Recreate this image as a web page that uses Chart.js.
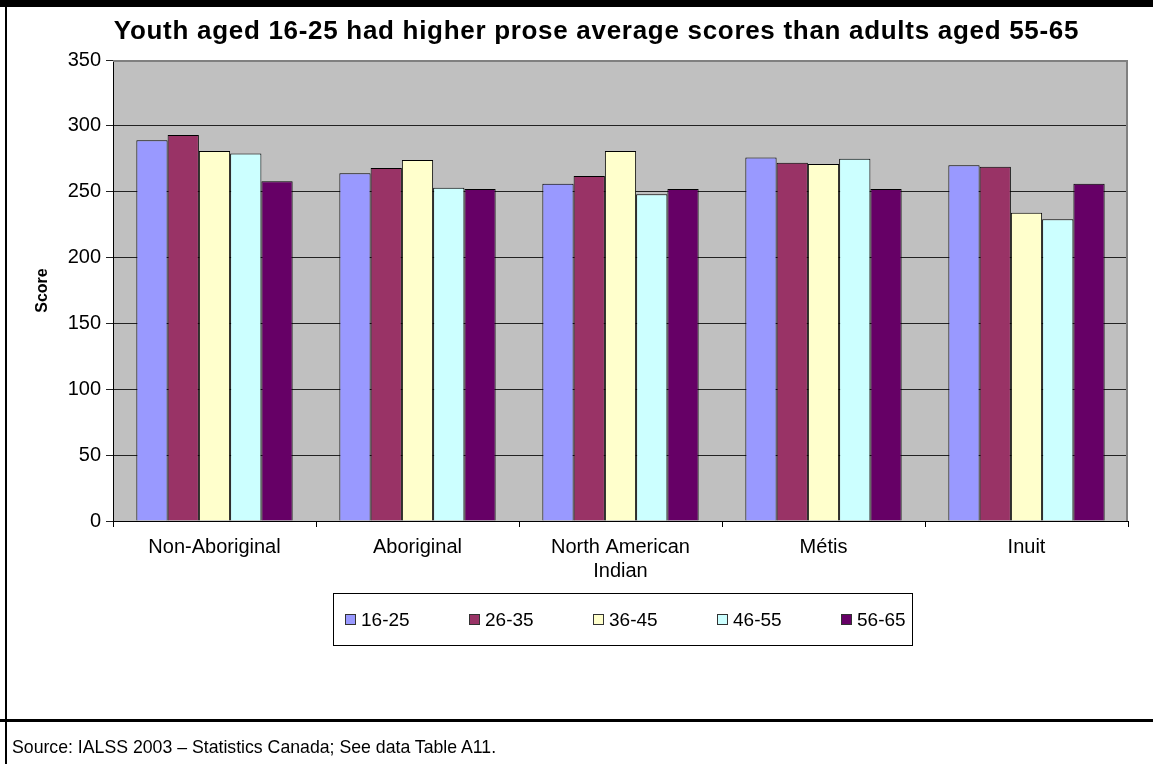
<!DOCTYPE html>
<html>
<head>
<meta charset="utf-8">
<script src="https://cdn.jsdelivr.net/npm/chart.js@4.4.1/dist/chart.umd.min.js"></script>
<style>
  html, body { margin: 0; padding: 0; background: #fff; }
  #wrap { position: relative; width: 1153px; height: 764px; overflow: hidden; font-family: Arial, "Liberation Sans", sans-serif; }
  #c { position: absolute; left: 0; top: 0; }
  #title { position: absolute; left: 0; width: 1193px; top: 15px; text-align: center; font-weight: bold; font-size: 26px; letter-spacing: 0.7px; color: #000; white-space: nowrap; }
  #source { position: absolute; left: 12px; top: 737px; font-size: 17.7px; color: #000; }
</style>
</head>
<body>
<div id="wrap">
  <canvas id="c" width="1153" height="764"></canvas>
  <div id="title">Youth aged 16-25 had higher prose average scores than adults aged 55-65</div>
  <div id="source">Source: IALSS 2003 – Statistics Canada; See data Table A11.</div>
</div>
<script>
const categories = ["Non-Aboriginal", "Aboriginal", ["North American", "Indian"], "Métis", "Inuit"];
const seriesNames = ["16-25", "26-35", "36-45", "46-55", "56-65"];
const age16_25 = [289, 264, 256, 276, 270];
const age26_35 = [293, 268, 262, 272, 269];
const age36_45 = [281, 274, 281, 271, 234];
const age46_55 = [279, 253, 248, 275, 229];
const age56_65 = [258, 252, 252, 252, 256];
const seriesColors = ["#9999FF", "#993366", "#FFFFCC", "#CCFFFF", "#660066"];
const yTicks = [0, 50, 100, 150, 200, 250, 300, 350];

const seriesValues = [age16_25, age26_35, age36_45, age46_55, age56_65];

const decor = {
  id: 'decor',
  beforeDraw(chart) {
    const ctx = chart.ctx, a = chart.chartArea;
    ctx.save();
    ctx.fillStyle = '#fff';
    ctx.fillRect(0, 0, chart.width, chart.height);
    ctx.fillStyle = '#C0C0C0';
    ctx.fillRect(a.left, a.top, a.right - a.left, a.bottom - a.top);
    ctx.restore();
  },
  afterDraw(chart) {
    const ctx = chart.ctx, a = chart.chartArea;
    ctx.save();
    ctx.strokeStyle = '#808080';
    ctx.lineWidth = 2;
    ctx.beginPath();
    ctx.moveTo(a.left, a.top + 1);
    ctx.lineTo(a.right - 1, a.top + 1);
    ctx.lineTo(a.right - 1, a.bottom);
    ctx.stroke();
    ctx.fillStyle = '#000';
    ctx.fillRect(0, 0, chart.width, 7);
    ctx.fillRect(5, 0, 2, chart.height);
    ctx.fillRect(0, 719, chart.width, 3);
    ctx.strokeStyle = '#000';
    ctx.lineWidth = 1;
    ctx.strokeRect(333.5, 593.5, 579, 52);
    ctx.font = '19px Arial, "Liberation Sans", sans-serif';
    ctx.textBaseline = 'middle';
    ctx.textAlign = 'left';
    chart.data.datasets.forEach((ds, i) => {
      const x = 345 + i * 124;
      const y = 620;
      ctx.fillStyle = ds.backgroundColor;
      ctx.fillRect(x, y - 6, 11, 11);
      ctx.strokeStyle = '#333';
      ctx.strokeRect(x + 0.5, y - 5.5, 10, 10);
      ctx.fillStyle = '#000';
      ctx.fillText(ds.label, x + 16, y + 1);
    });
    ctx.restore();
  }
};

new Chart(document.getElementById('c'), {
  type: 'bar',
  data: {
    labels: categories,
    datasets: seriesNames.map((n, i) => ({
      label: n,
      data: seriesValues[i],
      backgroundColor: seriesColors[i],
      borderColor: '#000',
      borderWidth: 1,
      categoryPercentage: 0.77,
      barPercentage: 1.0
    }))
  },
  options: {
    responsive: false,
    animation: false,
    layout: { padding: { left: 0, right: 25, top: 60, bottom: 0 } },
    plugins: {
      legend: { display: false },
      title: { display: false },
      tooltip: { enabled: false }
    },
    scales: {
      x: {
        afterFit(s) { s.height = 243; },
        grid: { display: true, drawOnChartArea: false, offset: true, color: '#000', tickLength: 6, lineWidth: 1 },
        border: { display: true, color: '#000', width: 1 },
        ticks: { color: '#000', font: { family: 'Arial, "Liberation Sans", sans-serif', size: 20 }, padding: 8, maxRotation: 0, autoSkip: false }
      },
      y: {
        min: 0, max: 350,
        afterFit(s) { s.width = 113; },
        afterBuildTicks(s) { s.ticks = yTicks.map(v => ({ value: v })); },
        grid: { color: '#222', lineWidth: 1, tickLength: 7, drawTicks: true },
        border: { display: true, color: '#000', width: 1 },
        ticks: { color: '#000', font: { family: 'Arial, "Liberation Sans", sans-serif', size: 20 }, padding: 5 },
        title: { display: true, text: 'Score', color: '#000', font: { family: 'Arial, "Liberation Sans", sans-serif', size: 16, weight: 'bold' }, padding: { top: 33, bottom: 0 } }
      }
    }
  },
  plugins: [decor]
});
</script>
</body>
</html>
